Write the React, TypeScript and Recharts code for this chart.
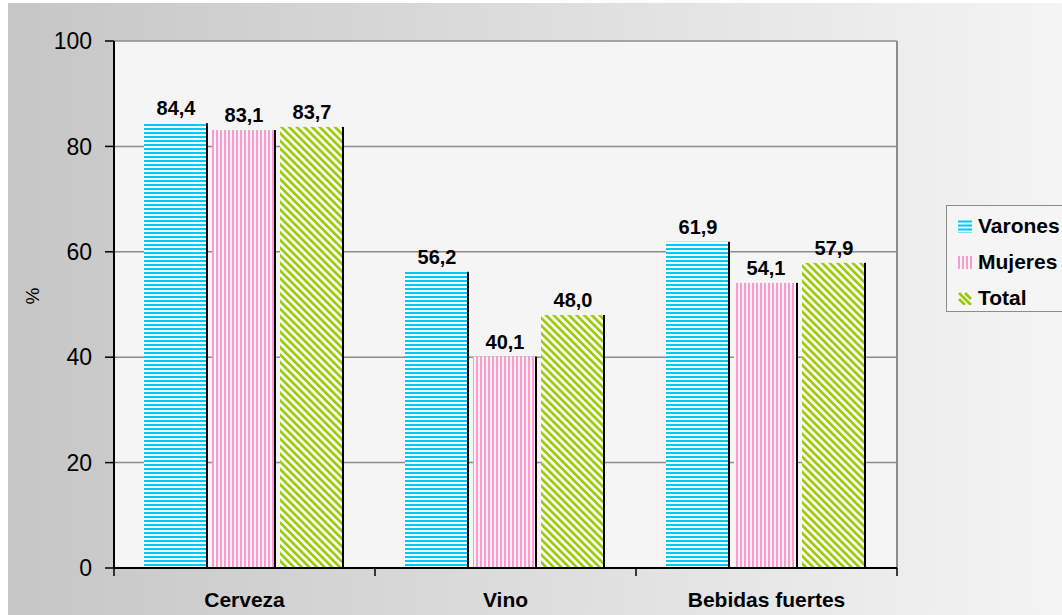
import { BarChart, Bar, XAxis, YAxis, CartesianGrid, LabelList } from "recharts";

const categories = ["Cerveza", "Vino", "Bebidas fuertes"];
const varones = [84.4, 56.2, 61.9];
const mujeres = [83.1, 40.1, 54.1];
const total = [83.7, 48.0, 57.9];
const yTicks = [0, 20, 40, 60, 80, 100];

const series = [
  { key: "varones", name: "Varones", pattern: "patVarones" },
  { key: "mujeres", name: "Mujeres", pattern: "patMujeres" },
  { key: "total", name: "Total", pattern: "patTotal" },
];

const data = categories.map((c, i) => ({
  categoria: c,
  varones: varones[i],
  mujeres: mujeres[i],
  total: total[i],
}));

const W = 1062;
const H = 615;
const LEFT = 114;
const RIGHT = 165;
const TOP = 41;
const XAXIS_H = 47;
const halfBand = (W - LEFT - RIGHT) / categories.length / 2;
const FONT = "'Liberation Sans', Arial, sans-serif";

function Patterns() {
  return (
    <defs>
      <pattern id="patVarones" patternUnits="userSpaceOnUse" width="4" height="4">
        <rect width="4" height="4" fill="#f4fbff" />
        <rect width="4" height="2" fill="#00c8f8" />
      </pattern>
      <pattern id="patMujeres" patternUnits="userSpaceOnUse" width="4" height="4">
        <rect width="4" height="4" fill="#fdf0f6" />
        <rect width="2" height="4" fill="#f79ccc" />
      </pattern>
      <pattern
        id="patTotal"
        patternUnits="userSpaceOnUse"
        width="5.4"
        height="5.4"
        patternTransform="rotate(-45)"
      >
        <rect width="5.4" height="5.4" fill="#f8fbef" />
        <rect width="2.5" height="5.4" fill="#99c800" />
      </pattern>
    </defs>
  );
}

const PatternBar = (props: any) => {
  const { x, y, width, height, fill } = props;
  if (!height || height <= 0) return null;
  return (
    <g>
      <rect x={x} y={y} width={width - 2} height={height} fill={fill} />
      <rect x={x + width - 2} y={y} width={2} height={height} fill="#000" />
    </g>
  );
};

const CategoryTick = (props: any) => {
  const { x, y, payload, index } = props;
  const top = y - 8;
  return (
    <g>
      <line x1={x - halfBand} x2={x - halfBand} y1={top} y2={y} stroke="#000" strokeWidth={1.5} />
      {index === categories.length - 1 && (
        <line x1={x + halfBand} x2={x + halfBand} y1={top} y2={y} stroke="#000" strokeWidth={1.5} />
      )}
      <text
        x={x}
        y={y + 31}
        textAnchor="middle"
        fontFamily={FONT}
        fontWeight="bold"
        fontSize={21}
        fill="#000"
      >
        {payload.value}
      </text>
    </g>
  );
};

const fmt = (v: any) => Number(v).toFixed(1).replace(".", ",");

function LegendIcon({ pattern }: { pattern: string }) {
  return (
    <svg width="14" height="13" style={{ display: "block" }}>
      <defs>
        <pattern id={pattern + "L"} patternUnits="userSpaceOnUse" width="4" height="4">
          {pattern === "patVarones" && (
            <>
              <rect width="4" height="4" fill="#f4f4f4" />
              <rect y="0.5" width="4" height="2" fill="#00c8f8" />
            </>
          )}
          {pattern === "patMujeres" && (
            <>
              <rect width="4" height="4" fill="#f4f4f4" />
              <rect width="2" height="4" fill="#f79ccc" />
            </>
          )}
        </pattern>
      </defs>
      {pattern === "patTotal" ? (
        <g stroke="#99c800" strokeWidth="2.6">
          <line x1="1" y1="1" x2="13" y2="13" />
          <line x1="7" y1="1" x2="13" y2="7" />
          <line x1="1" y1="7" x2="7" y2="13" />
        </g>
      ) : (
        <rect width="14" height="13" fill={`url(#${pattern}L)`} />
      )}
    </svg>
  );
}

export default function App() {
  return (
    <div
      style={{
        position: "absolute",
        left: 0,
        top: 0,
        width: W,
        height: H,
        overflow: "hidden",
        background: "#fff",
        fontFamily: FONT,
      }}
    >
      <div
        style={{
          position: "absolute",
          left: 8,
          top: 3,
          right: 0,
          bottom: 0,
          background: "linear-gradient(to right, #c6c6c6, #f4f4f4)",
        }}
      />
      <div style={{ position: "absolute", left: 0, top: 0 }}>
        <BarChart
          width={W}
          height={H}
          data={data}
          margin={{ top: TOP, right: RIGHT, bottom: 0, left: 0 }}
          barCategoryGap={30}
          barGap={4}
        >
          <Patterns />
          <CartesianGrid
            vertical={false}
            fill="#f5f5f5"
            stroke="#8c8c8c"
            strokeWidth={1.5}
          />
          <CartesianGrid
            horizontal={false}
            verticalCoordinatesGenerator={({ offset }: any) => [offset.left + offset.width]}
            stroke="#8c8c8c"
            strokeWidth={2}
          />
          <YAxis
            width={LEFT}
            domain={[0, 100]}
            ticks={yTicks}
            interval={0}
            tickSize={9}
            tickMargin={13}
            axisLine={{ stroke: "#000", strokeWidth: 2 }}
            tickLine={{ stroke: "#000", strokeWidth: 1.5 }}
            tick={{ fill: "#000", fontSize: 23, fontFamily: FONT }}
            label={{
              value: "%",
              angle: -90,
              position: "insideLeft",
              offset: 32,
              style: { fill: "#000", fontSize: 19, fontFamily: FONT },
            }}
          />
          <XAxis
            dataKey="categoria"
            height={XAXIS_H}
            tickSize={8}
            tickMargin={0}
            tickLine={false}
            axisLine={{ stroke: "#000", strokeWidth: 2 }}
            tick={<CategoryTick />}
            interval={0}
          />
          {series.map((s) => (
            <Bar
              key={s.key}
              dataKey={s.key}
              name={s.name}
              fill={`url(#${s.pattern})`}
              shape={<PatternBar />}
              isAnimationActive={false}
            >
              <LabelList
                dataKey={s.key}
                position="top"
                offset={8}
                formatter={fmt}
                style={{ fill: "#000", fontSize: 20, fontWeight: "bold", fontFamily: FONT }}
              />
            </Bar>
          ))}
        </BarChart>
      </div>
      <div
        style={{
          position: "absolute",
          left: 946,
          top: 205,
          width: 140,
          height: 107,
          border: "1px solid #8c8c8c",
          background: "#f5f5f5",
          boxSizing: "border-box",
        }}
      >
        {series.map((s, i) => (
          <div
            key={s.key}
            style={{
              position: "absolute",
              left: 11,
              top: 10 + i * 36,
              display: "flex",
              alignItems: "center",
              height: 20,
            }}
          >
            <LegendIcon pattern={s.pattern} />
            <span
              style={{
                marginLeft: 6,
                fontSize: 21,
                fontWeight: "bold",
                color: "#000",
                whiteSpace: "nowrap",
              }}
            >
              {s.name}
            </span>
          </div>
        ))}
      </div>
    </div>
  );
}
